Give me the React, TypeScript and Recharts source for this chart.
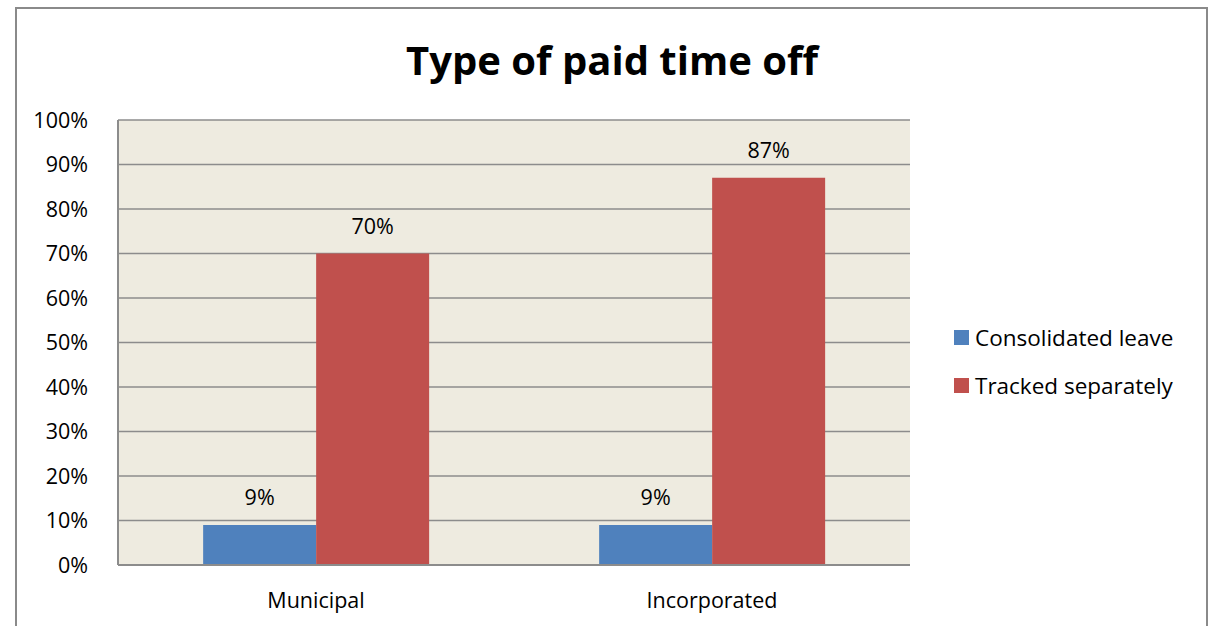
import React from "react";
import { Bar, BarChart, CartesianGrid, LabelList, XAxis, YAxis } from "recharts";

const categories = ["Municipal", "Incorporated"];
const consolidatedLeave = [9, 9];
const trackedSeparately = [70, 87];
const yTicks = [0, 10, 20, 30, 40, 50, 60, 70, 80, 90, 100];

const data = categories.map((name, i) => ({
  name,
  consolidated: consolidatedLeave[i],
  tracked: trackedSeparately[i],
}));

const FONT = "Open Sans, Liberation Sans, sans-serif";

function LegendBox() {
  const items = [
    { label: "Consolidated leave", color: "#4F81BD" },
    { label: "Tracked separately", color: "#C0504D" },
  ];
  return (
    <div style={{ fontFamily: FONT, fontSize: 22.5, color: "#000" }}>
      {items.map((it) => (
        <div key={it.label} style={{ display: "flex", alignItems: "center", height: 48 }}>
          <span style={{ width: 15, height: 15, background: it.color, marginRight: 6, display: "inline-block" }} />
          <span>{it.label}</span>
        </div>
      ))}
    </div>
  );
}

export default function App() {
  return (
    <div style={{ position: "absolute", left: 0, top: 0, width: 1212, height: 626, background: "#fff", overflow: "hidden" }}>
      <div
        style={{
          position: "absolute",
          left: 15,
          top: 7,
          width: 1189,
          height: 640,
          border: "2px solid #8a8a8a",
        }}
      />
      <div
        style={{
          position: "absolute",
          left: 0,
          width: 1224,
          top: 32,
          textAlign: "center",
          fontFamily: FONT,
          fontWeight: 700,
          fontSize: 40,
          color: "#000",
        }}
      >
        Type of paid time off
      </div>
      <div style={{ position: "absolute", left: 954, top: 313 }}>
        <LegendBox />
      </div>
      <div style={{ position: "absolute", left: 0, top: 0 }}>
        <BarChart
          width={1212}
          height={626}
          data={data}
          margin={{ top: 120, right: 302, left: 18, bottom: 21 }}
          barCategoryGap="21.5%"
          barGap={0}
        >
          <CartesianGrid vertical={false} stroke="#8c8c8c" strokeWidth={1.5} fill="#EEEBE0" />
          <XAxis
            dataKey="name"
            height={40}
            tickLine={false}
            axisLine={{ stroke: "#8c8c8c", strokeWidth: 2 }}
            tick={{ fill: "#000", fontSize: 21.5, fontFamily: FONT }}
            tickMargin={22}
          />
          <YAxis
            width={100}
            domain={[0, 100]}
            ticks={yTicks}
            interval={0}
            tickFormatter={(v) => `${v}%`}
            tickLine={false}
            axisLine={{ stroke: "#8c8c8c", strokeWidth: 2 }}
            tick={{ fill: "#000", fontSize: 21.5, fontFamily: FONT }}
            tickMargin={24}
          />
          <Bar dataKey="consolidated" name="Consolidated leave" fill="#4F81BD" isAnimationActive={false}>
            <LabelList
              dataKey="consolidated"
              position="top"
              offset={20}
              formatter={(v: number) => `${v}%`}
              style={{ fill: "#000", fontSize: 21.5, fontFamily: FONT }}
            />
          </Bar>
          <Bar dataKey="tracked" name="Tracked separately" fill="#C0504D" isAnimationActive={false}>
            <LabelList
              dataKey="tracked"
              position="top"
              offset={20}
              formatter={(v: number) => `${v}%`}
              style={{ fill: "#000", fontSize: 21.5, fontFamily: FONT }}
            />
          </Bar>
        </BarChart>
      </div>
    </div>
  );
}
